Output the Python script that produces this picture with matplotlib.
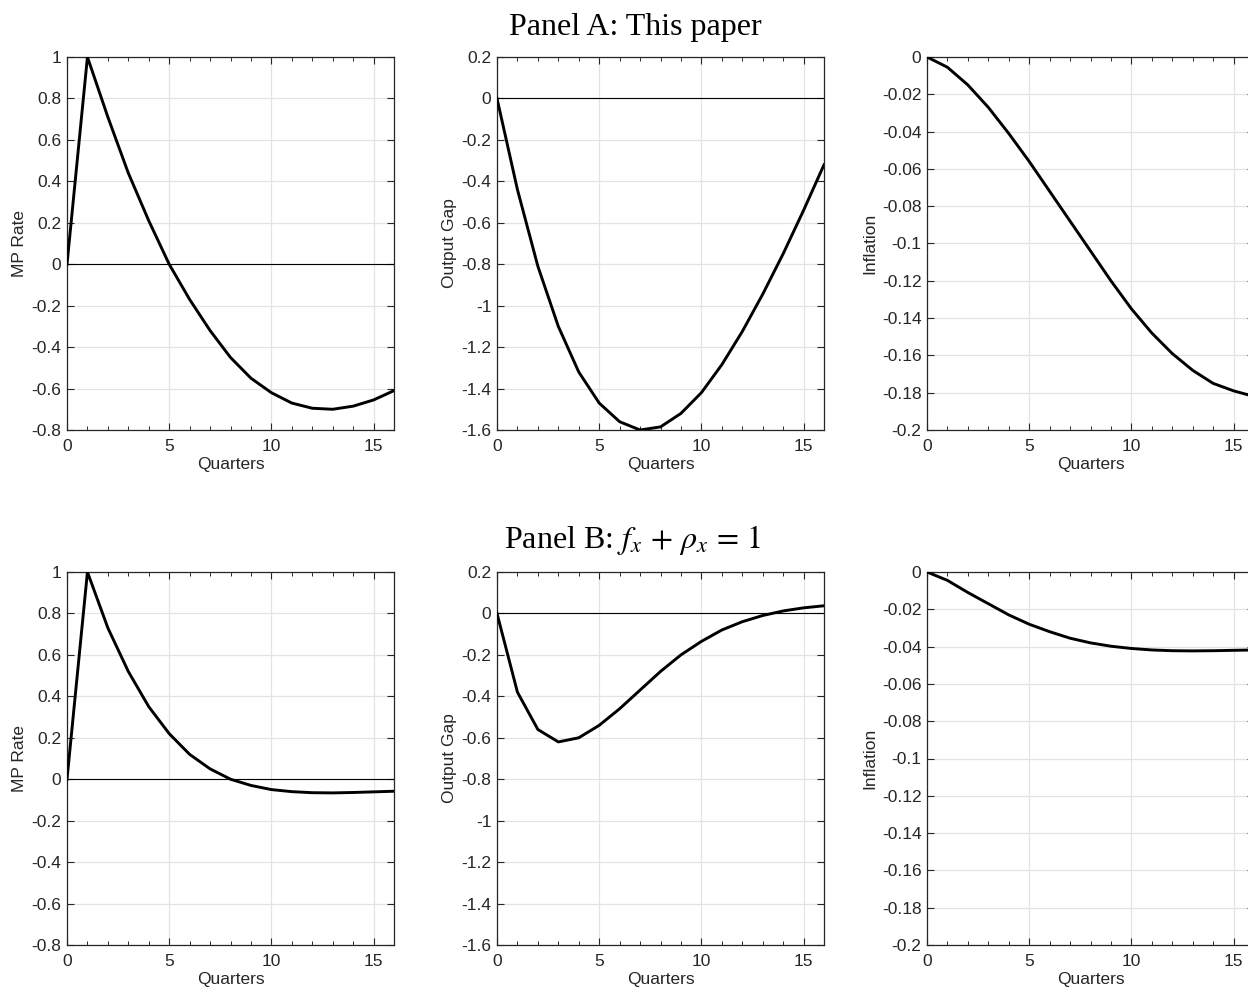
import matplotlib
matplotlib.use("Agg")
import matplotlib.pyplot as plt
from matplotlib.ticker import MultipleLocator

plt.rcParams['font.family'] = ['Liberation Sans', 'DejaVu Sans']
plt.rcParams['mathtext.fontset'] = 'stix'

quarters = list(range(17))

# Panel A: This paper
mp_a = [0, 1.0, 0.71, 0.44, 0.21, 0.0, -0.17, -0.32, -0.45, -0.55, -0.62,
        -0.67, -0.695, -0.70, -0.685, -0.655, -0.61]
gap_a = [0, -0.44, -0.81, -1.10, -1.32, -1.47, -1.56, -1.60, -1.585, -1.52,
         -1.42, -1.285, -1.125, -0.945, -0.75, -0.54, -0.32]
inf_a = [0, -0.0055, -0.015, -0.027, -0.041, -0.056, -0.072, -0.088, -0.104,
         -0.120, -0.135, -0.148, -0.159, -0.168, -0.175, -0.179, -0.182]

# Panel B: f_x + rho_x = 1
mp_b = [0, 1.0, 0.73, 0.52, 0.35, 0.22, 0.12, 0.05, 0.0, -0.03, -0.05,
        -0.06, -0.065, -0.066, -0.064, -0.061, -0.058]
gap_b = [0, -0.38, -0.56, -0.62, -0.60, -0.54, -0.46, -0.37, -0.28, -0.20,
         -0.135, -0.08, -0.04, -0.01, 0.012, 0.027, 0.037]
inf_b = [0, -0.0045, -0.011, -0.017, -0.023, -0.028, -0.032, -0.0355, -0.038,
         -0.0398, -0.041, -0.0418, -0.0422, -0.0423, -0.0422, -0.042, -0.0418]

ylabels = ['MP Rate', 'Output Gap', 'Inflation']
ylims = [(-0.8, 1), (-1.6, 0.2), (-0.2, 0)]
ysteps = [0.2, 0.2, 0.02]
titles = ['Panel A: This paper', r'Panel B: $f_x \,+\, \rho_x \,=\, 1$']
rows = [[mp_a, gap_a, inf_a], [mp_b, gap_b, inf_b]]

W, H = 1248, 989
fig = plt.figure(figsize=(W / 100, H / 100), dpi=100)

lefts = [67, 497, 927]
width = 327
tops = [57, 572]
height = 373
dark = '#262626'


def fmt(v):
    s = ('%.2f' % v).rstrip('0').rstrip('.')
    if s in ('-0', '0.'):
        s = '0'
    return s


for r, series in enumerate(rows):
    for c, y in enumerate(series):
        ax = fig.add_axes([lefts[c] / W, 1 - (tops[r] + height) / H,
                           width / W, height / H])
        ax.plot(quarters, y, color='black', lw=2.1, zorder=3)
        if c < 2:
            ax.axhline(0, color='black', lw=0.8, zorder=2)
        ax.set_xlim(0, 16)
        ax.set_ylim(*ylims[c])
        ax.xaxis.set_major_locator(MultipleLocator(5))
        ax.xaxis.set_minor_locator(MultipleLocator(1))
        lo, hi = ylims[c]
        n = int(round((hi - lo) / ysteps[c]))
        ticks = [lo + i * ysteps[c] for i in range(n + 1)]
        ax.set_yticks(ticks)
        ax.set_yticklabels([fmt(t) for t in ticks])
        ax.grid(True, which='major', color='#e3e3e3', lw=0.9)
        ax.set_axisbelow(True)
        ax.tick_params(which='both', direction='in', top=True, right=True,
                       colors=dark, labelsize=12.5, labelcolor=dark)
        ax.tick_params(which='major', length=5, width=0.8)
        ax.tick_params(which='minor', length=3, width=0.7)
        ax.tick_params(axis='x', which='major', pad=6.5)
        ax.tick_params(axis='y', which='major', pad=4)
        for sp in ax.spines.values():
            sp.set_color(dark)
            sp.set_linewidth(0.9)
        ax.set_xlabel('Quarters', fontsize=12.5, color=dark, labelpad=2)
        ax.set_ylabel(ylabels[c], fontsize=12.5, color=dark, labelpad=3)

fig.text(635 / W, 1 - 35 / H, titles[0], ha='center', va='baseline',
         fontsize=23, family='Liberation Serif')
fig.text(633 / W, 1 - 548 / H, titles[1], ha='center', va='baseline',
         fontsize=23, family='Liberation Serif')

fig.savefig('out.png', dpi=100)
